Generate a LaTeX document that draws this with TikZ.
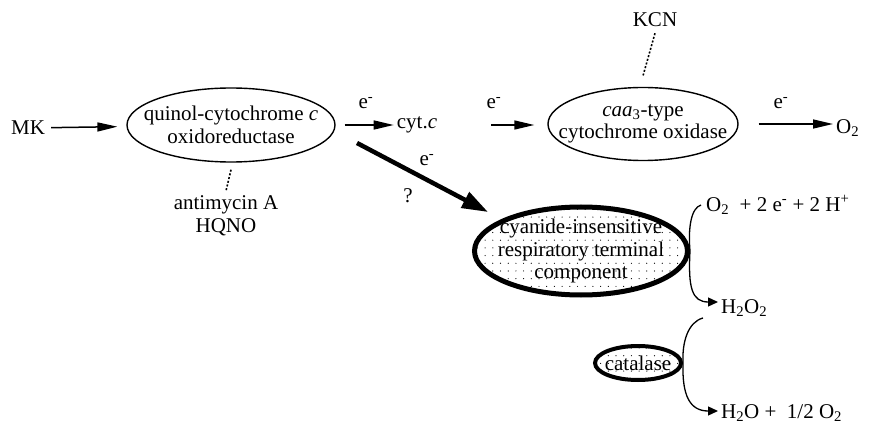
\documentclass[tikz,border=0pt]{standalone}
\usepackage{fontspec}
\setmainfont{Liberation Serif}
\usetikzlibrary{shapes.geometric,arrows.meta,patterns.meta}
\begin{document}
\begin{tikzpicture}[x=1pt,y=-1pt,
  every node/.style={font=\fontsize{21}{22.5}\selectfont, inner sep=0pt, align=center},
  oval/.style={ellipse, draw, line width=1.4pt, inner xsep=-60pt, inner ysep=-30pt},
  dotoval/.style={ellipse, draw, inner xsep=-60pt, inner ysep=-30pt,
    pattern={Dots[distance=7.7pt,radius=0.6pt]}, pattern color=black},
  arr/.style={line width=1.5pt, -{Triangle[length=20pt,width=9pt]}},
  bigarr/.style={line width=4.5pt, -{Triangle[length=26pt,width=17pt]}},
  brace/.style={line width=1.3pt, -{Triangle[length=10pt,width=9pt]}},
  inhib/.style={line width=1.6pt, dash pattern=on 2pt off 1.8pt}
]
\useasboundingbox (0,0) rectangle (879,425);

% nodes
\node (mk) at (28,128) {MK};
\node[oval, minimum width=208pt, minimum height=74pt] (qcr) at (231,125)
  {quinol-cytochrome \textit{c}\\oxidoreductase};
\node (anti) at (226,216) {antimycin A\\HQNO};
\node (cytc) at (417,125) {cyt.\textit{c}};
\node[oval, minimum width=190pt, minimum height=73pt] (caa) at (643,124)
  {\textit{caa}\textsubscript{3}-type\\cytochrome oxidase};
\node (kcn) at (655,20) {KCN};
\node[anchor=west] (o2) at (836,128) {O\textsubscript{2}};
\node[dotoval, line width=5pt, minimum width=213pt, minimum height=88pt] (cyan) at (581,251)
  {cyanide-insensitive\\respiratory terminal\\component};
\node[anchor=west] (rx1) at (706,205) {O\textsubscript{2}\ \ + 2 e\textsuperscript{-} + 2 H\textsuperscript{+}};
\node[anchor=west] (h2o2) at (721,308) {H\textsubscript{2}O\textsubscript{2}};
\node[dotoval, line width=4pt, minimum width=86pt, minimum height=34pt] (cat) at (638,363) {catalase};
\node[anchor=west] (h2o) at (721,413) {H\textsubscript{2}O +\ \ 1/2 O\textsubscript{2}};

% labels
\node (e1) at (366,103) {e\textsuperscript{-}};
\node (e2) at (494,103) {e\textsuperscript{-}};
\node (e3) at (781,103) {e\textsuperscript{-}};
\node (e4) at (427,160) {e\textsuperscript{-}};
\node (q) at (408,196) {?};

% helper coordinates
\coordinate (d0) at (357,143);
\coordinate (d1) at (488,212);
\coordinate (b1t) at (701,205);
\coordinate (b1b) at (718,302);
\coordinate (b2t) at (703,318);
\coordinate (b2b) at (718,411);

% connectors
\draw[arr, shorten <=6pt, shorten >=9pt] (mk) -- (qcr);
\draw[arr, shorten <=9pt, shorten >=3pt] (qcr.east |- cytc) -- (cytc.west);
\draw[arr, shorten <=54pt, shorten >=13pt] (cytc.east) -- (caa.west |- cytc);
\draw[arr, shorten <=20pt, shorten >=3pt] (caa.east) -- (o2.west |- caa.east);
\draw[bigarr] (d0) -- (d1);

\draw[inhib] ([yshift=-7pt]qcr.south) -- ([yshift=5pt]anti.north);
\draw[inhib] ([yshift=-6pt]kcn.south) -- ([yshift=11pt]caa.north);

\draw[brace] (b1t) .. controls (691,208) and (688,228) .. (cyan.east)
  .. controls (688,288) and (692,302) .. (b1b);
\draw[brace] (b2t) .. controls (688,322) and (682,342) .. (cat.east)
  .. controls (682,396) and (690,411) .. (b2b);
\end{tikzpicture}
\end{document}
